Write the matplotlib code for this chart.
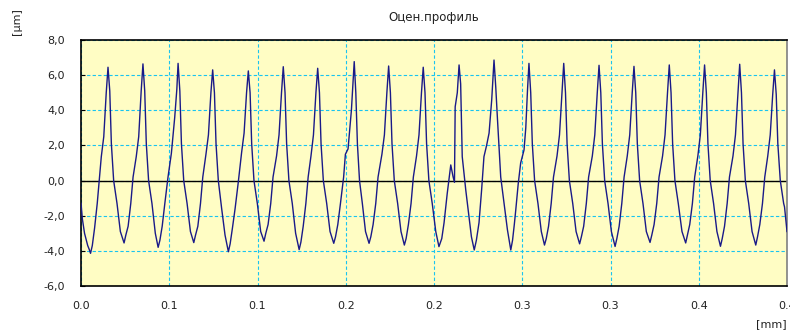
import matplotlib
matplotlib.use('Agg')
import matplotlib.pyplot as plt
from matplotlib.ticker import FuncFormatter

# evaluated profile, x in mm, height in um (vertices)
profile_x = [
    0.0000, 0.0008, 0.0020, 0.0038, 0.0046,
    0.0054, 0.0064, 0.0077, 0.0092, 0.0105, 0.0115, 0.0129, 0.0143, 0.0153, 0.0163, 0.0172, 0.0185, 0.0204, 0.0223,
    0.0244, 0.0254, 0.0267, 0.0282, 0.0295, 0.0313, 0.0327, 0.0341, 0.0351, 0.0361, 0.0370, 0.0383, 0.0402, 0.0421,
    0.0437, 0.0447, 0.0460, 0.0475, 0.0493, 0.0512, 0.0531, 0.0543, 0.0550, 0.0560, 0.0569, 0.0582, 0.0601, 0.0620,
    0.0639, 0.0649, 0.0662, 0.0677, 0.0690, 0.0708, 0.0722, 0.0736, 0.0746, 0.0756, 0.0765, 0.0778, 0.0797, 0.0816,
    0.0835, 0.0845, 0.0858, 0.0873, 0.0891, 0.0910, 0.0924, 0.0938, 0.0948, 0.0958, 0.0967, 0.0980, 0.0999, 0.1018,
    0.1037, 0.1047, 0.1060, 0.1075, 0.1088, 0.1108, 0.1122, 0.1136, 0.1146, 0.1156, 0.1165, 0.1178, 0.1197, 0.1216,
    0.1236, 0.1246, 0.1259, 0.1274, 0.1287, 0.1303, 0.1317, 0.1331, 0.1341, 0.1351, 0.1360, 0.1373, 0.1392, 0.1411,
    0.1432, 0.1442, 0.1455, 0.1470, 0.1488, 0.1498, 0.1513, 0.1532, 0.1540, 0.1548, 0.1557, 0.1566, 0.1578, 0.1594, 0.1612,
    0.1632, 0.1642, 0.1655, 0.1670, 0.1683, 0.1705, 0.1719, 0.1733, 0.1743, 0.1753, 0.1762, 0.1775, 0.1794, 0.1813,
    0.1832, 0.1842, 0.1855, 0.1870, 0.1883, 0.1901, 0.1915, 0.1929, 0.1939, 0.1949, 0.1958, 0.1971, 0.1990, 0.2010,
    0.2028, 0.2044, 0.2057, 0.2075, 0.2095, 0.2108, 0.2116, 0.2120, 0.2132, 0.2142, 0.2151, 0.2160, 0.2180, 0.2198, 0.2212,
    0.2228, 0.2240, 0.2255, 0.2270, 0.2283, 0.2298, 0.2312, 0.2327, 0.2340, 0.2350, 0.2359, 0.2378, 0.2397, 0.2416,
    0.2435, 0.2445, 0.2455, 0.2463, 0.2477, 0.2491, 0.2510, 0.2520, 0.2530, 0.2538, 0.2548, 0.2557, 0.2570, 0.2589, 0.2608,
    0.2626, 0.2636, 0.2649, 0.2664, 0.2677, 0.2697, 0.2711, 0.2725, 0.2735, 0.2745, 0.2754, 0.2767, 0.2786, 0.2805,
    0.2825, 0.2835, 0.2848, 0.2863, 0.2876, 0.2897, 0.2911, 0.2925, 0.2935, 0.2945, 0.2954, 0.2967, 0.2986, 0.3005,
    0.3026, 0.3036, 0.3049, 0.3064, 0.3077, 0.3095, 0.3109, 0.3123, 0.3133, 0.3143, 0.3152, 0.3165, 0.3184, 0.3203,
    0.3224, 0.3234, 0.3247, 0.3262, 0.3275, 0.3295, 0.3309, 0.3323, 0.3333, 0.3343, 0.3352, 0.3365, 0.3384, 0.3405,
    0.3426, 0.3436, 0.3449, 0.3464, 0.3477, 0.3495, 0.3509, 0.3523, 0.3533, 0.3543, 0.3552, 0.3565, 0.3584, 0.3603,
    0.3623, 0.3633, 0.3646, 0.3661, 0.3674, 0.3694, 0.3708, 0.3722, 0.3732, 0.3742, 0.3751, 0.3764, 0.3783, 0.3802,
    0.3823, 0.3833, 0.3846, 0.3861, 0.3874, 0.3891, 0.3905, 0.3919, 0.3929, 0.3939, 0.3948, 0.3962, 0.3981, 0.3986, 0.4000,
]
profile_y = [
    -1.29, -2.2, -3.0, -3.7, -3.9,
    -4.14, -3.7, -2.7, -1.3, 0.2, 1.36, 2.5, 5.0, 6.45, 5.1, 2.1, 0.0, -1.3, -2.9,
    -3.55, -3.1, -2.6, -1.3, 0.2, 1.36, 2.5, 5.1, 6.64, 5.1, 2.1, 0.0, -1.3, -3.0,
    -3.8, -3.4, -2.6, -1.3, 0.2, 1.55, 3.6, 5.2, 6.67, 5.1, 2.1, 0.0, -1.3, -2.9,
    -3.53, -3.1, -2.6, -1.3, 0.2, 1.5, 2.6, 5.0, 6.30, 5.0, 2.1, 0.0, -1.6, -3.1,
    -4.05, -3.6, -2.7, -1.6, -0.1, 1.6, 2.7, 5.0, 6.24, 5.0, 2.1, 0.0, -1.3, -2.9,
    -3.45, -3.0, -2.5, -1.3, 0.2, 1.4, 2.6, 5.0, 6.48, 5.0, 2.1, 0.0, -1.3, -3.0,
    -3.93, -3.5, -2.6, -1.3, 0.2, 1.4, 2.6, 5.0, 6.39, 5.0, 2.1, 0.0, -1.3, -2.9,
    -3.57, -3.2, -2.5, -1.3, 0.2, 1.5, 1.8, 4.0, 5.4, 6.77, 5.0, 2.1, 0.0, -1.3, -2.9,
    -3.57, -3.2, -2.5, -1.3, 0.2, 1.5, 2.6, 5.0, 6.52, 5.0, 2.1, 0.0, -1.3, -2.9,
    -3.67, -3.3, -2.5, -1.3, 0.2, 1.4, 2.6, 5.0, 6.45, 5.0, 2.1, 0.0, -1.3, -2.9,
    -3.76, -3.3, -2.4, -0.73, 0.89, 0.22, -0.1, 4.2, 5.0, 6.58, 5.5, 1.36, -0.54, -2.05, -3.2,
    -3.95, -3.4, -2.4, -0.5, 1.36, 2.0, 2.7, 4.6, 6.86, 5.3, 3.6, 0.2, -1.3, -2.8,
    -3.95, -3.4, -2.5, -1.7, -0.2, 1.0, 1.74, 3.0, 5.2, 6.67, 5.0, 2.1, 0.0, -1.3, -2.9,
    -3.67, -3.3, -2.6, -1.3, 0.2, 1.4, 2.6, 5.0, 6.67, 5.0, 2.1, 0.0, -1.3, -2.9,
    -3.6, -3.2, -2.6, -1.3, 0.2, 1.4, 2.6, 5.0, 6.56, 5.0, 2.1, 0.0, -1.3, -2.9,
    -3.75, -3.3, -2.6, -1.3, 0.2, 1.4, 2.6, 5.0, 6.5, 5.0, 2.1, 0.0, -1.3, -2.9,
    -3.52, -3.1, -2.5, -1.3, 0.2, 1.4, 2.6, 5.0, 6.58, 5.0, 2.1, 0.0, -1.3, -2.9,
    -3.55, -3.1, -2.5, -1.3, 0.2, 1.4, 2.6, 5.0, 6.58, 5.0, 2.1, 0.0, -1.3, -2.9,
    -3.74, -3.3, -2.6, -1.3, 0.2, 1.4, 2.6, 5.0, 6.62, 5.0, 2.1, 0.0, -1.3, -2.9,
    -3.67, -3.2, -2.5, -1.3, 0.2, 1.4, 2.6, 4.9, 6.3, 4.9, 2.1, 0.0, -1.3, -1.5, -2.9,
]

x_ticks = [0.0, 0.05, 0.10, 0.15, 0.20, 0.25, 0.30, 0.35, 0.40]
x_labels = ["0.0", "0.1", "0.1", "0.2", "0.2", "0.3", "0.3", "0.4", "0.4"]
y_ticks = [-6, -4, -2, 0, 2, 4, 6, 8]

fig = plt.figure(figsize=(7.9, 3.3), dpi=100)
ax = fig.add_axes([81 / 790, 44 / 330, 706 / 790, 246 / 330])
ax.set_facecolor('#fffdc4')

ax.plot(profile_x, profile_y, color='#1a1a88', lw=1.0, zorder=3)
ax.axhline(0, color='black', lw=1.0, zorder=2)

ax.set_xlim(0, 0.4)
ax.set_ylim(-6, 8)
ax.set_xticks(x_ticks)
ax.set_xticklabels(x_labels)
ax.set_yticks(y_ticks)
ax.yaxis.set_major_formatter(FuncFormatter(lambda v, _: f"{v:.1f}".replace('.', ',')))

ax.set_axisbelow(True)
ax.grid(True, color='#19c4f0', ls=(0, (3, 2)), lw=0.8)

ax.tick_params(axis='y', direction='in', length=3, labelsize=8, pad=11.5, labelcolor='#222222')
ax.tick_params(axis='x', direction='in', length=0, labelsize=8, pad=10.5, labelcolor='#222222')

for side in ['left', 'bottom', 'top']:
    ax.spines[side].set_color('black')
    ax.spines[side].set_linewidth(1.2)
ax.spines['right'].set_color('#808080')
ax.spines['right'].set_linewidth(1.2)

fig.text(434 / 790, 1 - 17 / 330, 'Оцен.профиль', ha='center', va='center', fontsize=8.5, color='#222222')
fig.text(17 / 790, 1 - 22 / 330, '[µm]', rotation=90, ha='center', va='center', fontsize=8, color='#222222')
fig.text(771 / 790, 1 - 324 / 330, '[mm]', ha='center', va='center', fontsize=8, color='#222222')

fig.savefig('out.png', dpi=100)
